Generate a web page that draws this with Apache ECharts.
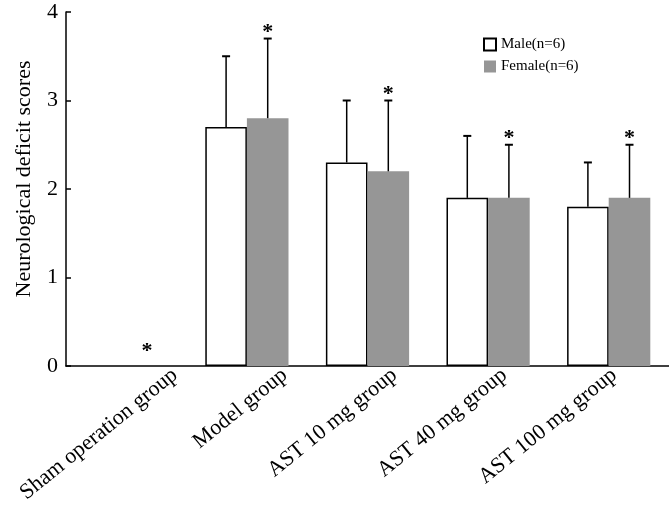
<!DOCTYPE html>
<html><head><meta charset="utf-8">
<script src="https://cdn.jsdelivr.net/npm/echarts@6/dist/echarts.min.js"></script>
<style>html,body{margin:0;padding:0;background:#fff}#c{width:669px;height:506px}</style>
</head><body><div id="c"></div>
<script>
const categories = ['Sham operation group','Model group','AST 10 mg group','AST 40 mg group','AST 100 mg group'];
const maleMean = [0, 2.7, 2.3, 1.9, 1.8];
const femaleMean = [0, 2.8, 2.2, 1.9, 1.9];
const maleUpper = [0, 3.5, 3.0, 2.6, 2.3];
const femaleUpper = [0, 3.7, 3.0, 2.5, 2.5];
const femaleStar = [true, true, true, true, true];
const yTicks = [0, 1, 2, 3, 4];

const FONT = 'Liberation Serif, Times New Roman, serif';
const GAP = 0.31;
const chart = echarts.init(document.getElementById('c'));

const errData = [];
categories.forEach((c, i) => {
  errData.push([i, 0, maleMean[i], maleUpper[i], 0]);
  errData.push([i, 1, femaleMean[i], femaleUpper[i], femaleStar[i] ? 1 : 0]);
});
const maleData = maleMean.map(v => v === 0 ? { value: v, itemStyle: { borderWidth: 0 } } : v);

chart.setOption({
  animation: false,
  legend: {
    orient: 'vertical', left: 478, top: 32, itemWidth: 12, itemHeight: 12, itemGap: 7,
    icon: 'rect',
    textStyle: { fontFamily: FONT, fontSize: 15, color: '#000' },
    data: ['Male(n=6)', 'Female(n=6)']
  },
  grid: [
    { left: 66, top: 12, width: 612, height: 354 },
    { left: 120, top: 12, width: 612, height: 354 }
  ],
  xAxis: [
    { type: 'category', gridIndex: 0, data: categories,
      axisLine: { lineStyle: { color: '#000', width: 1.5 } },
      axisTick: { show: false }, axisLabel: { show: false } },
    { type: 'category', gridIndex: 1, data: categories,
      axisLine: { show: false }, axisTick: { show: false },
      axisLabel: { rotate: 39, margin: 17, interval: 0, fontFamily: FONT, fontSize: 22, color: '#000' } }
  ],
  yAxis: [
    { type: 'value', gridIndex: 0, min: yTicks[0], max: yTicks[yTicks.length - 1], interval: 1,
      name: 'Neurological deficit scores', nameLocation: 'middle', nameGap: 31,
      nameTextStyle: { fontFamily: FONT, fontSize: 22, color: '#000', padding: [0, 0, 0, 20] },
      axisLine: { show: true, lineStyle: { color: '#000', width: 1.5 } },
      axisTick: { show: true, inside: true, length: 5, lineStyle: { color: '#000', width: 1.5 } },
      splitLine: { show: false },
      axisLabel: { fontFamily: FONT, fontSize: 22, color: '#000', margin: 8 } },
    { type: 'value', gridIndex: 1, min: 0, max: 4, show: false }
  ],
  series: [
    { name: 'Male(n=6)', type: 'bar', data: maleData, barGap: '0%', barCategoryGap: (GAP * 100) + '%',
      itemStyle: { color: '#fff', borderColor: '#000', borderWidth: 1.5 } },
    { name: 'Female(n=6)', type: 'bar', data: femaleMean,
      itemStyle: { color: '#969696' } },
    { type: 'custom', data: errData, z: 5,
      encode: { x: 0, y: 3 },
      renderItem: function (params, api) {
        const ci = api.value(0), side = api.value(1);
        const mean = api.value(2), top = api.value(3), star = api.value(4);
        const band = api.size([1, 0])[0];
        const bw = band * (1 - GAP) / 2;
        const c = api.coord([ci, mean]);
        const x = c[0] + (side === 0 ? -bw / 2 : bw / 2);
        const y0 = c[1];
        const y1 = api.coord([ci, top])[1];
        const children = [];
        if (top > mean) {
          children.push({ type: 'line', shape: { x1: x, y1: y0, x2: x, y2: y1 }, style: { stroke: '#000', lineWidth: 1.5 } });
          children.push({ type: 'line', shape: { x1: x - 4, y1: y1, x2: x + 4, y2: y1 }, style: { stroke: '#000', lineWidth: 2 } });
        }
        if (star) {
          children.push({ type: 'text', style: { text: '*', x: x, y: y1 + (top > mean ? 5 : -4), align: 'center', verticalAlign: 'bottom',
            font: 'bold 22px ' + FONT, fill: '#000' } });
        }
        return { type: 'group', children: children };
      } }
  ]
});
</script></body></html>
